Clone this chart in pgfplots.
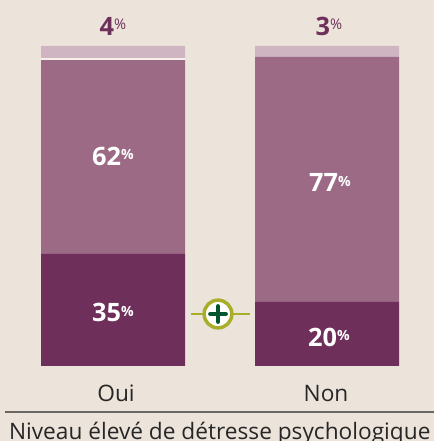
\documentclass[border=0pt]{standalone}
\usepackage{pgfplots}
\pgfplotsset{compat=1.18}
\usepackage{fontspec}
\setmainfont{Open Sans}
\definecolor{bg}{HTML}{ECE4DB}
\definecolor{dark}{HTML}{6E2F5B}
\definecolor{mid}{HTML}{9C6A85}
\definecolor{light}{HTML}{CFB5C1}
\definecolor{gap}{HTML}{F4EFEA}
\definecolor{olive}{HTML}{A9AE2A}
\definecolor{pgreen}{HTML}{00552F}
\newcommand{\lab}[1]{\textbf{\fontsize{19}{19}\selectfont #1}\raisebox{0.42em}{\fontsize{10.5}{10.5}\selectfont\bfseries\%}}
\newcommand{\labr}[1]{\textbf{\fontsize{19}{19}\selectfont #1}\raisebox{0.42em}{\fontsize{11}{11}\selectfont\%}}
\begin{document}
\begin{tikzpicture}[x=1pt,y=1pt]
\useasboundingbox (0,0) rectangle (325.5,330.75);
\clip (0,0) rectangle (325.5,330.75);
\fill[bg] (0,0) rectangle (325.5,330.75);
\begin{axis}[
  at={(0pt,56.25pt)}, anchor=south west,
  scale only axis, width=325.5pt, height=274.5pt,
  xmin=0, xmax=434, ymin=0, ymax=114.375,
  axis lines=none,
  ybar stacked, bar width=108pt,
  clip=false,
]
\addplot[fill=dark,draw=none] coordinates {(113,35) (327,20)};
\addplot[fill=mid,draw=none] coordinates {(113,60.6) (327,76.6)};
\addplot[fill=gap,draw=none] coordinates {(113,0.65) (327,0)};
\addplot[fill=light,draw=none] coordinates {(113,3.75) (327,3.4)};
\end{axis}
\begin{axis}[
  at={(0pt,56.25pt)}, anchor=south west,
  scale only axis, width=325.5pt, height=274.5pt,
  xmin=0, xmax=434, ymin=0, ymax=114.375,
  axis lines=none,
  clip=false,
]
\addplot[olive,line width=2.2pt,mark=none] coordinates {(191,16.25) (250,16.25)};
\addplot[only marks,mark=*,mark size=10.4pt,mark options={draw=olive,fill=white,line width=2.6pt}] coordinates {(218,16.25)};
\addplot[only marks,mark=+,mark size=5.8pt,mark options={draw=pgreen,line width=3.2pt,line cap=round}] coordinates {(218,16.25)};
\node[white] at (axis cs:113,65.6) {\lab{62}};
\node[white] at (axis cs:113,16.6) {\lab{35}};
\node[white] at (axis cs:330,57.2) {\lab{77}};
\node[white] at (axis cs:329,9) {\lab{20}};
\node[dark] at (axis cs:113,106.2) {\labr{4}};
\node[dark] at (axis cs:329,106.2) {\labr{3}};
\end{axis}
\node[text=black!85,font=\fontsize{17}{17}\selectfont] at (87,35.5) {Oui};
\node[text=black!85,font=\fontsize{17}{17}\selectfont] at (244.5,35.5) {Non};
\draw[color=black!55!bg,line width=1.2pt] (3.75,21.75) -- (325.5,21.75);
\node[text=black!85,font=\fontsize{17}{17}\selectfont,anchor=base] at (164.8,1) {Niveau élevé de détresse psychologique};
\end{tikzpicture}
\end{document}
